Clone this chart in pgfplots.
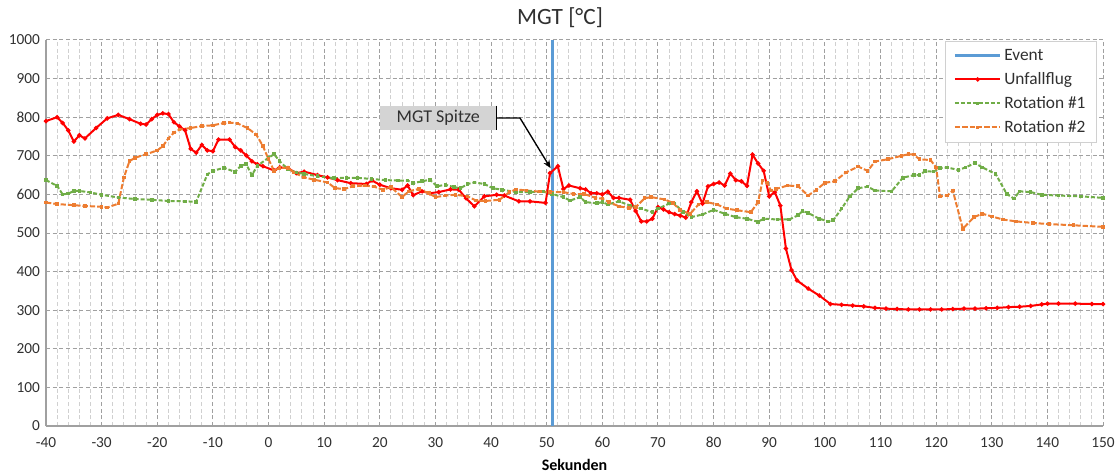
\documentclass[border=0pt]{standalone}
\usepackage{pgfplots}
\pgfplotsset{compat=1.18}
\usepackage{fontspec}
\setmainfont{Carlito}
\usetikzlibrary{arrows.meta}
\definecolor{evblue}{HTML}{5B9BD5}
\definecolor{rot1}{HTML}{70AD47}
\definecolor{rot2}{HTML}{ED7D31}
\definecolor{gridmaj}{HTML}{A0A0A0}
\definecolor{gridmin}{HTML}{D0D0D0}
\definecolor{txt}{HTML}{303030}
\begin{document}
\begin{tikzpicture}
\useasboundingbox (-34.5pt,-36.75pt) rectangle (805.5pt,319.5pt);
\begin{axis}[
  scale only axis, width=792.75pt, height=289.5pt,
  at={(0,0)}, anchor=south west,
  xmin=-40, xmax=150, ymin=0, ymax=1000,
  xtick={-40,-30,...,150}, ytick={0,100,...,1000},
  minor x tick num=4,
  xmajorgrids, xminorgrids, ymajorgrids,
  major grid style={draw=gridmaj, dash pattern=on 3pt off 2pt, line width=0.75pt},
  minor grid style={draw=gridmin, dash pattern=on 3pt off 2pt, line width=0.75pt},
  axis x line*=bottom, axis y line*=left,
  axis line style={draw=gridmaj, line width=1.2pt, -},
  tick style={draw=none},
  /pgf/number format/assume math mode=true,
  /pgf/number format/1000 sep={},
  ticklabel style={font=\fontsize{11.5}{13}\selectfont, text=txt},
  xticklabel style={yshift=-5pt},
  yticklabel style={xshift=-1pt},
  xlabel={\textbf{Sekunden}},
  xlabel style={at={(axis description cs:0.5,0)}, anchor=center, yshift=-29.5pt, font=\fontsize{12}{14}\selectfont, text=black},
  legend style={at={(rel axis cs:0.994,0.998)}, anchor=north east, draw=gridmin, line width=0.75pt, fill=white,
    font=\fontsize{13}{15}\selectfont, text=txt, row sep=3.5pt, inner xsep=6pt, inner ysep=4pt},
  legend cell align=left,
  legend image code/.code={\draw[mark repeat=2, mark phase=2, #1] plot coordinates {(0pt,0pt) (17pt,0pt) (34pt,0pt)};},
]
\addplot[evblue, line width=2pt] coordinates {(51,0) (51,1000)};
\addlegendentry{Event}
\addplot[red, line width=1.5pt, mark=*, mark size=0.8pt] coordinates {
(-40,790) (-38,800) (-37,785) (-36,766) (-35,737) (-34,753) (-33,745) (-31,772) (-29,797) (-27,806)
(-25,795) (-23,783) (-22,781) (-21,795) (-20,806) (-19,810) (-18,808) (-17,787) (-16,776) (-15,766)
(-14,718) (-13,708) (-12,728) (-11,714) (-10,712) (-9,742) (-7,742) (-6,723) (-5,714) (-4,701)
(-3,686) (-2,678) (-1,673) (1,662) (2,670) (3.5,668) (5,655) (6.4,659) (8.8,650) (10.6,644)
(12.4,637) (14.8,629) (17.6,627) (18.6,636) (20,625) (22,616) (24,612) (25,623) (26,598) (27.6,608)
(29,603) (30.6,606) (32.7,613) (34.2,612) (35.5,590) (37,569) (38.8,595) (41,599) (42.4,597) (45,582)
(47,582) (49.8,578) (50.6,655) (52,673) (53,614) (54,623) (56,616) (57,613) (58,603) (59,603)
(60,600) (61,607) (62,591) (63,591) (65,586) (66,557) (67,530) (68,530) (69,537) (70,567)
(71,561) (72,554) (73,549) (74,545) (75,540) (76,580) (77,608) (78,576) (79,621) (80,627)
(81,631) (82,623) (83,654) (84,637) (85,634) (86,622) (87,703) (88,680) (89,661) (90,595)
(91,606) (92,571) (93,460) (94,404) (95,377) (97,356) (99,338) (101,316) (103,314) (105,312)
(107,310) (109,306) (111,304) (113,303) (115,302) (117,302) (119,302) (121,302) (123,303) (125,304)
(127,304) (129,305) (131,306) (133,308) (135,309) (137,311) (139,315) (140,317) (142,317) (145,317)
(148,316) (150,316)};
\addlegendentry{Unfallflug}
\addplot[rot1, line width=1.5pt, dash pattern=on 3pt off 1.5pt, mark=square*, mark size=0.6pt, mark options={solid}] coordinates {
(-40,637) (-38,622) (-37,600) (-36,602) (-35,609) (-34,609) (-32,605) (-30,599) (-27,592) (-24,588)
(-21,586) (-18,583) (-15,582) (-13,581) (-11,652) (-10,661) (-8,669) (-6,658) (-5,674) (-4,678)
(-3,650) (-2,674) (0,695) (1,704) (2,686) (3.5,665) (5,657) (6.4,653) (8.8,647) (11.8,642)
(14,643) (16,643) (18.5,640) (21,637) (23.3,636) (25,636) (26,629) (27.6,634) (29,638) (30.3,621)
(31.8,625) (33.3,619) (34.5,616) (35.8,627) (37,631) (38.8,627) (40.3,616) (42,612) (44.5,606) (47,606)
(49.4,607) (51,601) (53,593) (54.2,584) (56,593) (57,580) (59,577) (60,580) (61,574) (63,582)
(65,571) (67,563) (69,554) (70,563) (72,576) (73,576) (74.5,554) (76,541) (78,548) (80,560)
(82,550) (84,541) (86,537) (88,529) (89,537) (91.5,535) (93.6,535) (95.2,546) (96,557) (97,552)
(99,537) (100.6,530) (101.5,533) (103,563) (104.5,595) (106,616) (107.7,620) (109,610) (112,608) (114,643)
(116,650) (117,650) (118,660) (119.5,659) (120.7,668) (122,670) (124,663) (125.3,670) (127,681) (128.3,670)
(130.7,653) (132.7,601) (134,589) (135,608) (137,606) (139,599) (142,597) (146,595) (150,591)};
\addlegendentry{Rotation \#1}
\addplot[rot2, line width=1.5pt, dash pattern=on 4pt off 1.5pt, mark=square*, mark size=0.6pt, mark options={solid}] coordinates {
(-40,579) (-38,575) (-35,572) (-33,570) (-30,568) (-29,566) (-27,576) (-26,644) (-25,686) (-24,695)
(-22,704) (-20,714) (-19,725) (-18,745) (-17,760) (-16,768) (-14,772) (-12,777) (-10,779) (-8,785)
(-7,786) (-5.6,784) (-3.8,772) (-2.2,755) (-1,725) (0,691) (1,661) (2,669) (3.5,669) (4.5,657)
(6.4,644) (8.2,638) (10.6,631) (12,616) (13.6,614) (15.2,621) (17.3,623) (19,620) (20.6,612) (22,619)
(24,593) (25.2,608) (27,614) (28.8,603) (30,593) (31.8,597) (33.6,599) (35.8,595) (37.3,584) (39,583)
(41.5,586) (43.3,606) (44.5,613) (46.4,610) (48.8,607) (50.6,606) (53,606) (54.8,601) (56.7,601) (58.8,591)
(60,589) (61.2,580) (63,569) (64.8,565) (66,567) (67.6,590) (68.8,593) (71.2,587) (72.7,578) (74,559)
(75.8,550) (77.3,574) (78.8,580) (80.6,574) (82.4,563) (84.2,559) (86.7,554) (88,580) (88.8,636) (89.7,629)
(90.3,610) (91.2,614) (93.3,623) (95.2,621) (97,597) (98.5,612) (100,630) (101.8,634) (103.8,657) (106,672)
(107.7,661) (109,685) (111.3,691) (113.8,700) (115,704) (116,703) (117,691) (119,689) (120,670) (120.7,595)
(122,597) (123,610) (124.8,511) (126.8,541) (128.3,550) (130,543) (132,535) (134.4,530) (137.4,526) (140.4,523)
(144.7,520) (150,516)};
\addlegendentry{Rotation \#2}
\node[fill=black!17, minimum width=87pt, minimum height=18pt, inner sep=0pt, font=\fontsize{13.5}{15}\selectfont, text=txt] (box) at (axis cs:30.5,798) {MGT Spitze};
\draw[black, line width=1pt] (box.north east) -- (box.south east);
\draw[black, line width=1pt, -{Stealth[length=6pt,width=5pt]}] (box.east) -- (axis cs:45.2,798) -- (axis cs:50.7,668);
\end{axis}
\node[font=\fontsize{17.5}{20}\selectfont, text=txt] at (385.5pt,306pt) {MGT [°C]};
\end{tikzpicture}
\end{document}
